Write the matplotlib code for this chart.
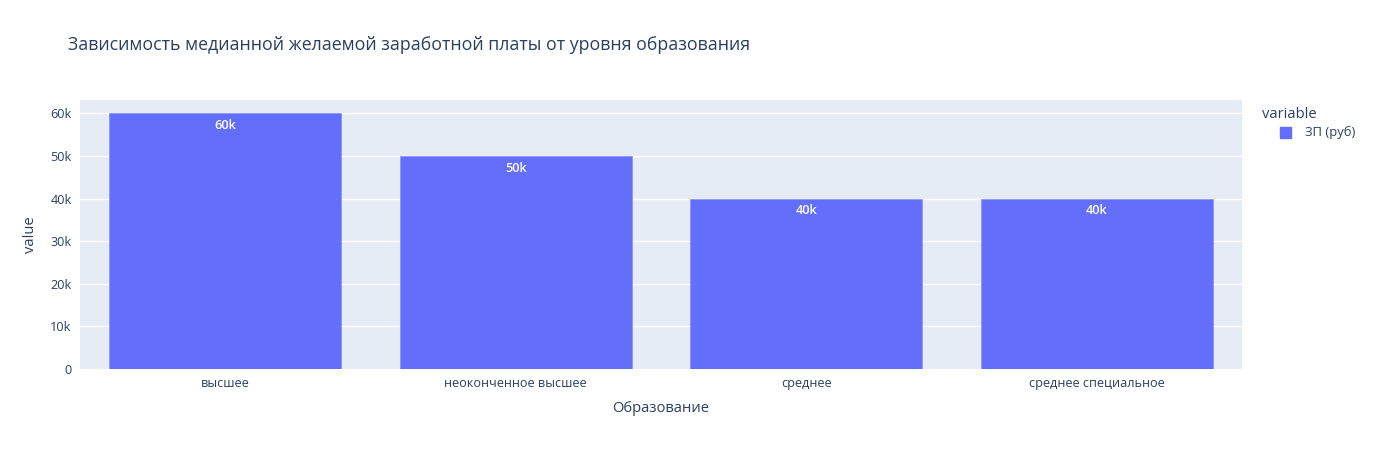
import matplotlib
matplotlib.use('Agg')
import matplotlib.pyplot as plt
from matplotlib.ticker import FuncFormatter

plt.rcParams['font.family'] = ['Open Sans', 'DejaVu Sans']

categories = ['высшее', 'неоконченное высшее', 'среднее', 'среднее специальное']
values = [60000, 50000, 40000, 40000]
bar_labels = ['60k', '50k', '40k', '40k']
yticks = [0, 10000, 20000, 30000, 40000, 50000, 60000]

TXT = '#2a3f5f'
BAR = '#636efa'

fig = plt.figure(figsize=(13.76, 4.5), dpi=100)
ax = fig.add_axes([80/1376, 81/450, 1162/1376, 269/450])
ax.set_facecolor('#E5ECF6')

x = range(len(categories))
bars = ax.bar(x, values, width=0.8, color=BAR, edgecolor='#8d95fb', linewidth=0.6, zorder=3)
for b, lab in zip(bars, bar_labels):
    ax.annotate(lab, (b.get_x() + b.get_width()/2, b.get_height()),
                xytext=(0, -4), textcoords='offset points',
                ha='center', va='top', color='white', fontsize=9.2,
                fontweight='semibold', zorder=4)

ax.set_xlim(-0.5, len(categories) - 0.5)
ax.set_ylim(0, max(values) * 1.0526)
ax.set_xticks(list(x))
ax.set_xticklabels(categories)
ax.set_yticks(yticks)
ax.yaxis.set_major_formatter(FuncFormatter(lambda v, p: '0' if v == 0 else '%dk' % (v/1000)))
ax.grid(axis='y', color='white', linewidth=1, zorder=0)
ax.tick_params(length=0, labelsize=9.1, labelcolor=TXT, pad=6)
for s in ax.spines.values():
    s.set_visible(False)

ax.set_xlabel('Образование', fontsize=10.6, color=TXT, labelpad=8)
ax.set_ylabel('value', fontsize=10.6, color=TXT, labelpad=9)

fig.text(68/1376, 1 - 45/450, 'Зависимость медианной желаемой заработной платы от уровня образования',
         fontsize=12.8, color=TXT, va='center', ha='left')

fig.text(1262/1376, 1 - 114/450, 'variable', fontsize=10.6, color=TXT, va='center', ha='left')
fig.patches.append(plt.Rectangle((1280/1376, 1 - 138/450), 11/1376, 11/450,
                                 transform=fig.transFigure, color=BAR, figure=fig))
fig.text(1305/1376, 1 - 132/450, 'ЗП (руб)', fontsize=9.4, color=TXT, va='center', ha='left')

fig.savefig('out.png', dpi=100)
